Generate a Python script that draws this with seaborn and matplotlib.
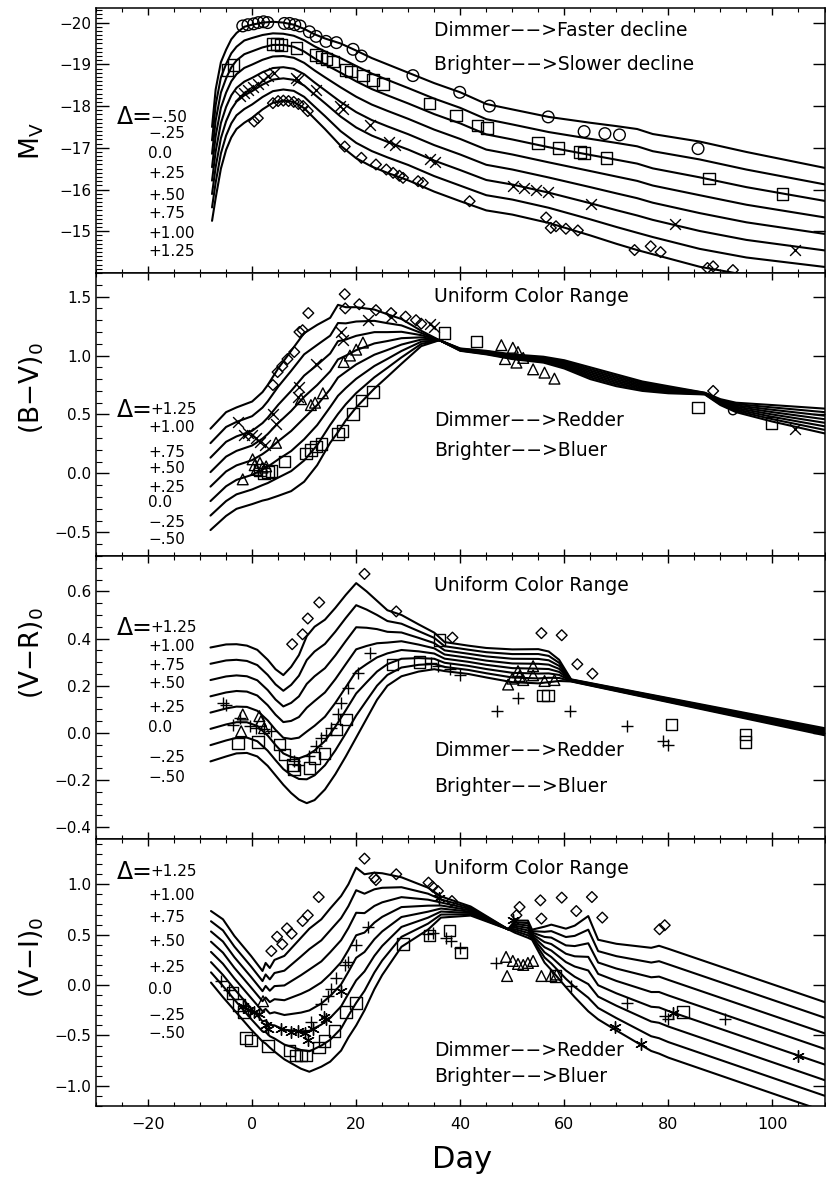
import numpy as np
import pandas as pd
import matplotlib
matplotlib.use("Agg")
import matplotlib.pyplot as plt
import seaborn as sns
from matplotlib.ticker import MultipleLocator, FixedLocator

# light-curve families: the extreme curves (delta=-0.5 and delta=+1.25)
deltas = [-0.5, -0.25, 0.0, 0.25, 0.5, 0.75, 1.0, 1.25]

mv_days = [-7.7, -7, -6, -5, -4, -3, -1.5, 0, 2, 4, 6, 8, 10, 12, 14, 17, 20, 23, 26, 30,
           35, 40, 45, 50, 57, 65, 70, 74, 77, 86, 95, 110]
mv_lo = [-17.5, -18.4, -19.05, -19.35, -19.6, -19.75, -19.9, -19.95, -20.0, -20.02, -20.0,
         -19.95, -19.85, -19.72, -19.62, -19.5, -19.33, -19.15, -19.0, -18.8, -18.55, -18.33,
         -18.05, -17.92, -17.74, -17.6, -17.52, -17.45, -17.33, -17.15, -16.9, -16.52]
mv_hi = [-15.25, -15.8, -16.5, -16.95, -17.25, -17.45, -17.6, -17.72, -17.92, -18.08, -18.13,
         -18.1, -17.95, -17.7, -17.45, -17.05, -16.75, -16.55, -16.4, -16.22, -15.95, -15.72,
         -15.5, -15.4, -15.2, -14.9, -14.7, -14.55, -14.45, -14.15, -13.95, -13.75]

bv_days = [-8, -5, -3, 0, 2, 3, 5, 7.5, 10, 12.5, 15, 16.5, 18, 20, 23.5, 26, 28.7, 32.5, 36,
           40, 45, 50, 56, 60, 65, 70, 75, 80, 87, 90, 93, 100, 110]
bv_lo = [-0.48, -0.36, -0.3, -0.26, -0.23, -0.22, -0.19, -0.15, -0.07, 0.07, 0.26, 0.35, 0.45,
         0.56, 0.72, 0.82, 0.93, 1.08, 1.13, 1.04, 1.01, 0.97, 0.94, 0.89, 0.8, 0.74, 0.7,
         0.68, 0.67, 0.58, 0.52, 0.44, 0.34]
bv_hi = [0.38, 0.52, 0.56, 0.61, 0.69, 0.75, 0.89, 1.04, 1.19, 1.26, 1.32, 1.43, 1.41, 1.41,
         1.39, 1.35, 1.31, 1.21, 1.13, 1.06, 1.04, 1.01, 0.99, 0.96, 0.9, 0.84, 0.78, 0.74,
         0.685, 0.63, 0.6, 0.58, 0.55]

vr_days = [-8, -5, -3, -1, 1, 3, 4.5, 6, 7.5, 9, 10.5, 12, 14, 16, 18, 20, 22, 24, 26, 28.7,
           32, 35, 37, 41.5, 45, 50, 55, 57, 59, 61.3, 110]
vr_lo = [-0.121, -0.1, -0.087, -0.085, -0.1, -0.14, -0.18, -0.22, -0.255, -0.283, -0.298,
         -0.285, -0.24, -0.175, -0.1, -0.02, 0.06, 0.14, 0.2, 0.24, 0.26, 0.27, 0.262, 0.25,
         0.235, 0.215, 0.21, 0.215, 0.22, 0.218, -0.01]
vr_hi = [0.362, 0.375, 0.376, 0.37, 0.352, 0.31, 0.27, 0.245, 0.28, 0.33, 0.41, 0.45, 0.48,
         0.53, 0.585, 0.635, 0.6, 0.56, 0.52, 0.5, 0.46, 0.425, 0.385, 0.37, 0.36, 0.354,
         0.355, 0.345, 0.31, 0.227, 0.02]

vi_days = [-7.9, -5.6, -3.4, -0.2, 2.0, 2.6, 3.4, 4.3, 6.2, 9.4, 11, 13.3, 15, 17.1, 18.5, 20,
           21.6, 23.5, 25, 28.7, 33.8, 36.3, 42, 49.2, 50.5, 53.0, 53.8, 56.2, 57.5, 60.3, 62,
           64.6, 66.5, 70, 76.7, 78.2, 80, 110.4]
vi_lo = [0.025, -0.12, -0.25, -0.44, -0.56, -0.58, -0.62, -0.66, -0.737, -0.83, -0.86, -0.81,
         -0.76, -0.65, -0.52, -0.4, -0.25, -0.04, 0.1, 0.38, 0.55, 0.67, 0.69, 0.554, 0.52,
         0.47, 0.45, 0.223, 0.15, -0.02, -0.12, -0.26, -0.34, -0.45, -0.654, -0.68, -0.72,
         -1.26]
vi_hi = [0.735, 0.653, 0.487, 0.289, 0.14, 0.22, 0.17, 0.25, 0.29, 0.47, 0.56, 0.653, 0.76,
         0.884, 1.0, 1.165, 1.1, 1.116, 1.11, 1.07, 0.967, 0.88, 0.78, 0.554, 0.64, 0.64,
         0.55, 0.58, 0.6, 0.56, 0.59, 0.685, 0.45, 0.41, 0.37, 0.39, 0.36, -0.175]

# observed supernovae
mv_circ_d = [-1.8, -0.8, 0.3, 1.2, 2.2, 3.0, 6.2, 7.2, 8.2, 9.2, 11.0, 12.3, 14.2, 16.2, 19.4,
             21.0, 30.9, 39.9, 45.6, 56.9, 63.8, 67.8, 70.6, 85.7]
mv_circ_v = [-19.92, -19.95, -19.97, -20.0, -20.02, -20.0, -19.98, -19.98, -19.95, -19.92,
             -19.78, -19.67, -19.55, -19.52, -19.36, -19.2, -18.73, -18.33, -18.0, -17.74,
             -17.39, -17.34, -17.31, -16.98]
mv_sq_d = [-4.7, -3.6, 4.0, 4.8, 5.6, 8.5, 12.3, 13.3, 14.3, 15.5, 18.0, 19.0, 21.3, 23.2, 25.1,
           34.1, 39.2, 43.3, 45.1, 54.9, 58.9, 63.0, 63.8, 68.1, 87.8, 101.9]
mv_sq_v = [-18.86, -18.98, -19.48, -19.48, -19.47, -19.39, -19.23, -19.18, -19.13, -19.07,
           -18.87, -18.83, -18.73, -18.63, -18.53, -18.06, -17.77, -17.53, -17.48, -17.11,
           -16.99, -16.9, -16.88, -16.76, -16.26, -15.9]
mv_x_d = [-2.4, -1.6, -0.8, 0.2, 1.1, 2.0, 3.0, 4.3, 8.5, 8.8, 12.3, 16.8, 17.4, 22.6, 26.4,
          27.4, 34.1, 35.1, 50.1, 52.3, 54.5, 56.9, 65.2, 81.2, 104.3]
mv_x_v = [-18.25, -18.32, -18.39, -18.46, -18.53, -18.62, -18.71, -18.79, -18.67, -18.63,
          -18.39, -17.99, -17.93, -17.55, -17.15, -17.07, -16.73, -16.67, -16.08, -16.03,
          -15.98, -15.93, -15.66, -15.18, -14.55]
mv_dia_d = [0.4, 1.1, 4.0, 5.0, 6.0, 7.0, 8.0, 8.9, 9.8, 10.7, 17.8, 21.0, 23.8, 25.8, 27.1,
            28.3, 29.0, 31.9, 32.8, 41.8, 56.5, 57.4, 58.4, 60.3, 62.6, 73.5, 76.6, 78.5,
            87.5, 88.6, 92.4]
mv_dia_v = [-17.63, -17.71, -18.07, -18.12, -18.13, -18.12, -18.1, -18.05, -18.0, -17.88,
            -17.03, -16.76, -16.6, -16.48, -16.4, -16.33, -16.28, -16.2, -16.16, -15.72,
            -15.33, -15.08, -15.12, -15.06, -15.02, -14.55, -14.64, -14.5, -14.12, -14.16,
            -14.07]

bv_dia_d = [4.0, 4.9, 5.8, 6.8, 8.1, 9.1, 9.7, 10.8, 17.8, 17.9, 20.6, 23.8, 26.7, 29.5, 31.5,
            32.5, 88.6]
bv_dia_v = [0.75, 0.86, 0.91, 0.97, 1.03, 1.2, 1.215, 1.36, 1.52, 1.4, 1.435, 1.385, 1.36,
            1.33, 1.3, 1.27, 0.7]
bv_x_d = [-2.75, -1.5, -0.8, 0.0, 0.8, 1.6, 2.4, 4.0, 4.6, 8.8, 9.1, 12.3, 17.1, 17.4, 22.2,
          26.7, 34.1, 35.0, 104.3]
bv_x_v = [0.44, 0.33, 0.34, 0.33, 0.3, 0.27, 0.24, 0.5, 0.42, 0.65, 0.73, 0.93, 1.2, 1.13, 1.3,
          1.33, 1.27, 1.24, 0.38]
bv_tri_d = [-1.8, 0.1, 0.5, 0.8, 1.5, 2.0, 2.7, 4.6, 9.4, 11.3, 12.1, 13.6, 17.6, 18.8, 20.0,
            21.3, 47.9, 48.6, 50.1, 50.8, 51.1, 52.1, 54.0, 56.2, 58.1]
bv_tri_v = [-0.05, 0.12, 0.07, 0.03, 0.09, 0.05, 0.06, 0.26, 0.63, 0.58, 0.6, 0.68, 0.945, 1.0,
            1.05, 1.11, 1.088, 0.97, 1.066, 0.94, 1.03, 0.98, 0.883, 0.855, 0.804]
bv_sq_d = [1.5, 2.3, 3.0, 3.7, 6.2, 10.4, 11.3, 12.3, 13.3, 16.5, 17.4, 19.4, 21.0, 23.2, 37.0,
           43.1, 85.7, 99.8]
bv_sq_v = [0.03, 0.0, 0.01, 0.02, 0.1, 0.17, 0.2, 0.23, 0.25, 0.335, 0.36, 0.505, 0.62, 0.69,
           1.19, 1.12, 0.56, 0.43]
bv_circ_d = [92.4]
bv_circ_v = [0.535]

vr_dia_d = [7.7, 9.7, 10.7, 12.9, 21.6, 27.7, 38.5, 55.6, 59.5, 62.5, 65.4]
vr_dia_v = [0.376, 0.418, 0.485, 0.553, 0.674, 0.515, 0.404, 0.423, 0.414, 0.291, 0.251]
vr_plus_d = [-5.6, -5.0, -3.7, -2.4, -0.5, 0.8, 2.2, 3.6, 8.1, 8.8, 11.0, 12.3, 13.3, 14.2, 15.2,
             16.5, 17.1, 18.4, 20.3, 22.6, 34.4, 35.7, 38.0, 40.0, 47.1, 51.1, 61.0, 72.0,
             79.0, 80.0]
vr_plus_v = [0.128, 0.12, 0.035, 0.064, 0.028, 0.02, 0.015, 0.007, -0.12, -0.135, -0.1, -0.057,
             -0.021, -0.007, 0.021, 0.078, 0.128, 0.191, 0.255, 0.34, 0.295, 0.285, 0.27,
             0.244, 0.092, 0.146, 0.092, 0.028, -0.036, -0.05]
vr_tri_d = [-2.1, -1.8, 1.4, 1.7, 2.3, 49.2, 50.0, 51.1, 51.4, 52.1, 54.0, 54.0, 56.2, 58.1]
vr_tri_v = [0.007, 0.078, 0.071, 0.05, 0.02, 0.205, 0.23, 0.262, 0.241, 0.224, 0.283, 0.244,
            0.22, 0.224]
vr_sq_d = [-2.75, 1.1, 5.3, 6.2, 7.8, 8.1, 11.0, 12.0, 13.9, 16.2, 18.1, 27.0, 32.2, 36.0, 55.9,
           56.9, 80.6, 94.8, 94.8]
vr_sq_v = [-0.045, -0.04, -0.05, -0.092, -0.135, -0.155, -0.149, -0.106, -0.088, 0.014, 0.057,
           0.29, 0.3, 0.394, 0.159, 0.159, 0.035, -0.007, -0.04]

vi_dia_d = [3.7, 4.8, 5.8, 6.7, 7.6, 9.7, 10.7, 12.8, 21.6, 23.5, 23.8, 27.7, 33.9, 34.7, 35.7,
            38.4, 50.8, 51.4, 55.4, 55.6, 59.5, 62.3, 65.3, 67.3, 78.3, 79.3]
vi_dia_v = [0.338, 0.48, 0.405, 0.563, 0.51, 0.636, 0.693, 0.874, 1.255, 1.066, 1.043, 1.1,
            1.017, 0.977, 0.934, 0.834, 0.693, 0.775, 0.841, 0.66, 0.868, 0.735, 0.874, 0.67,
            0.554, 0.594]
vi_plus_d = [-6.0, -4.5, 11.3, 13.3, 14.6, 15.2, 16.2, 17.8, 18.4, 20.0, 22.2, 33.8, 34.7, 37.3,
             38.3, 39.9, 46.9, 61.3, 72.1, 79.3, 79.9, 90.8]
vi_plus_v = [0.04, -0.05, -0.37, -0.19, -0.11, -0.04, 0.07, 0.2, 0.23, 0.4, 0.58, 0.504, 0.514,
             0.47, 0.437, 0.37, 0.223, -0.007, -0.174, -0.307, -0.333, -0.34]
vi_ast_d = [-1.8, -0.8, 0.3, 1.4, 2.7, 3.0, 5.6, 7.5, 8.8, 10.1, 10.7, 11.7, 13.9, 14.2, 17.1,
            36.0, 50.1, 69.7, 74.8, 80.9, 104.9]
vi_ast_v = [-0.21, -0.25, -0.27, -0.29, -0.4, -0.44, -0.44, -0.467, -0.46, -0.48, -0.54, -0.44,
            -0.32, -0.34, -0.06, 0.868, 0.646, -0.42, -0.587, -0.28, -0.703]
vi_tri_d = [2.1, 48.8, 49.0, 50.1, 51.1, 52.1, 53.0, 54.0, 55.6, 57.5, 58.5]
vi_tri_v = [-0.16, 0.28, 0.09, 0.24, 0.21, 0.2, 0.22, 0.24, 0.09, 0.09, 0.105]
vi_sq_d = [-3.8, -2.5, -1.5, -1.2, -0.2, 3.0, 7.2, 8.4, 9.4, 10.4, 12.9, 13.9, 15.8, 18.1, 20.0,
           29.0, 34.1, 37.9, 40.1, 58.3, 82.8]
vi_sq_v = [-0.08, -0.2, -0.27, -0.525, -0.55, -0.605, -0.65, -0.7, -0.7, -0.7, -0.62, -0.555,
           -0.456, -0.27, -0.175, 0.405, 0.494, 0.54, 0.325, 0.09, -0.267]

mv_labels = ["\u2212.50", "\u2212.25", "0.0", "+.25", "+.50", "+.75", "+1.00", "+1.25"]
col_labels = ["+1.25", "+1.00", "+.75", "+.50", "+.25", "0.0", "\u2212.25", "\u2212.50"]

W, H = 826, 1181

sns.set_style("ticks")
plt.rcParams["font.family"] = ["DejaVu Sans"]
plt.rcParams.update({"axes.linewidth": 1.1, "axes.edgecolor": "black", "text.color": "black",
                     "xtick.color": "black", "ytick.color": "black",
                     "axes.labelcolor": "black"})


def family(days, lo, hi):
    lo = np.asarray(lo)
    hi = np.asarray(hi)
    r_vec = (hi - lo) / 1.75
    rows = []
    for d in deltas:
        vals = lo + (d + 0.5) * r_vec
        rows.append(pd.DataFrame({"day": days, "val": vals, "delta": d}))
    return pd.concat(rows, ignore_index=True)


def marks(ax, days, vals, marker, size):
    if marker in ("o", "s", "D", "^"):
        sns.scatterplot(x=days, y=vals, marker=marker, s=size, facecolor="none",
                        edgecolor="black", linewidth=1.0, ax=ax, zorder=3)
    else:
        sns.scatterplot(x=days, y=vals, marker=marker, s=size, color="black",
                        linewidth=1.0, ax=ax, zorder=3)


panels = [
    dict(fam=family(mv_days, mv_lo, mv_hi), ylim=(-14.0, -20.35), major=1.0, minor=0.1,
         fixed=[-20, -19, -18, -17, -16, -15],
         label="M$_\\mathrm{V}$", lab_y=141,
         marks=[(mv_circ_d, mv_circ_v, "o", 70), (mv_sq_d, mv_sq_v, "s", 70),
                (mv_x_d, mv_x_v, "x", 60), (mv_dia_d, mv_dia_v, "D", 30)],
         deltas=mv_labels, dl_y=[117, 134, 153, 174, 195, 213, 233, 252],
         notes=[("Dimmer\u2212\u2212>Faster decline", 31), ("Brighter\u2212\u2212>Slower decline", 64)]),
    dict(fam=family(bv_days, bv_lo, bv_hi), ylim=(-0.7, 1.7), major=0.5, minor=0.1, fixed=None,
         label="(B\u2212V)$_\\mathrm{0}$", lab_y=388,
         marks=[(bv_dia_d, bv_dia_v, "D", 30), (bv_x_d, bv_x_v, "x", 60),
                (bv_tri_d, bv_tri_v, "^", 60), (bv_sq_d, bv_sq_v, "s", 70),
                (bv_circ_d, bv_circ_v, "o", 40)],
         deltas=col_labels, dl_y=[410, 427, 452, 469, 487, 503, 522, 539],
         notes=[("Uniform Color Range", 297), ("Dimmer\u2212\u2212>Redder", 421),
                ("Brighter\u2212\u2212>Bluer", 450)]),
    dict(fam=family(vr_days, vr_lo, vr_hi), ylim=(-0.45, 0.75), major=0.2, minor=0.05, fixed=None,
         label="(V\u2212R)$_\\mathrm{0}$", lab_y=653,
         marks=[(vr_dia_d, vr_dia_v, "D", 30), (vr_plus_d, vr_plus_v, "+", 70),
                (vr_tri_d, vr_tri_v, "^", 60), (vr_sq_d, vr_sq_v, "s", 70)],
         deltas=col_labels, dl_y=[628, 647, 665, 683, 707, 728, 757, 778],
         notes=[("Uniform Color Range", 586), ("Dimmer\u2212\u2212>Redder", 750),
                ("Brighter\u2212\u2212>Bluer", 786)]),
    dict(fam=family(vi_days, vi_lo, vi_hi), ylim=(-1.2, 1.45), major=0.5, minor=0.1, fixed=None,
         label="(V\u2212I)$_\\mathrm{0}$", lab_y=957,
         marks=[(vi_dia_d, vi_dia_v, "D", 30), (vi_plus_d, vi_plus_v, "+", 70),
                (vi_ast_d, vi_ast_v, (6, 2, 0), 70), (vi_tri_d, vi_tri_v, "^", 60),
                (vi_sq_d, vi_sq_v, "s", 70)],
         deltas=col_labels, dl_y=[872, 895, 917, 941, 967, 990, 1015, 1033],
         notes=[("Uniform Color Range", 869), ("Dimmer\u2212\u2212>Redder", 1050),
                ("Brighter\u2212\u2212>Bluer", 1076)]),
]

fig = plt.figure(figsize=(W / 100, H / 100), dpi=100)
gs = fig.add_gridspec(4, 1, left=96 / W, right=824.5 / W, top=1 - 8 / H, bottom=1 - 1106 / H,
                      height_ratios=[265, 283, 283, 267], hspace=0)

ax0 = None
for i, p in enumerate(panels):
    ax = fig.add_subplot(gs[i], sharex=ax0)
    if ax0 is None:
        ax0 = ax
    sns.lineplot(data=p["fam"], x="day", y="val", units="delta", estimator=None,
                 color="black", linewidth=1.5, ax=ax)
    for d, v, m, s in p["marks"]:
        marks(ax, d, v, m, s)
    ax.set_xlim(-30, 110)
    ax.set_ylim(*p["ylim"])
    ax.xaxis.set_major_locator(MultipleLocator(20))
    ax.xaxis.set_minor_locator(MultipleLocator(5))
    if p["fixed"] is not None:
        ax.yaxis.set_major_locator(FixedLocator(p["fixed"]))
    else:
        ax.yaxis.set_major_locator(MultipleLocator(p["major"]))
    ax.yaxis.set_minor_locator(MultipleLocator(p["minor"]))
    ax.tick_params(axis="x", which="major", direction="in", top=True, bottom=True,
                   length=5, width=1)
    ax.tick_params(axis="x", which="minor", direction="in", top=True, bottom=True,
                   length=3, width=0.8)
    ax.tick_params(axis="y", which="major", direction="in", left=True, right=True,
                   length=9, width=1, labelsize=11)
    ax.tick_params(axis="y", which="minor", direction="in", left=True, right=False,
                   length=4.5, width=0.8)
    ax.set_xlabel("")
    ax.set_ylabel("")
    if i < 3:
        ax.tick_params(axis="x", labelbottom=False)
    else:
        ax.tick_params(axis="x", labelsize=11.5, pad=8)
    for sp in ax.spines.values():
        sp.set_visible(True)

    fig.text(32 / W, 1 - p["lab_y"] / H, p["label"], rotation=90, ha="center", va="center",
             fontsize=19)
    fig.text(117 / W, 1 - p["dl_y"][0] / H, "\u0394=", ha="left", va="center", fontsize=17)
    for k, (txt, yy) in enumerate(zip(p["deltas"], p["dl_y"])):
        xx = 150 if k == 0 else 148
        fig.text(xx / W, 1 - yy / H, txt, ha="left", va="center", fontsize=11)
    for txt, yy in p["notes"]:
        fig.text(434 / W, 1 - yy / H, txt, ha="left", va="center", fontsize=13.5)

fig.text(462 / W, 1 - 1160 / H, "Day", ha="center", va="center", fontsize=22)

fig.savefig("out.png", dpi=100)
